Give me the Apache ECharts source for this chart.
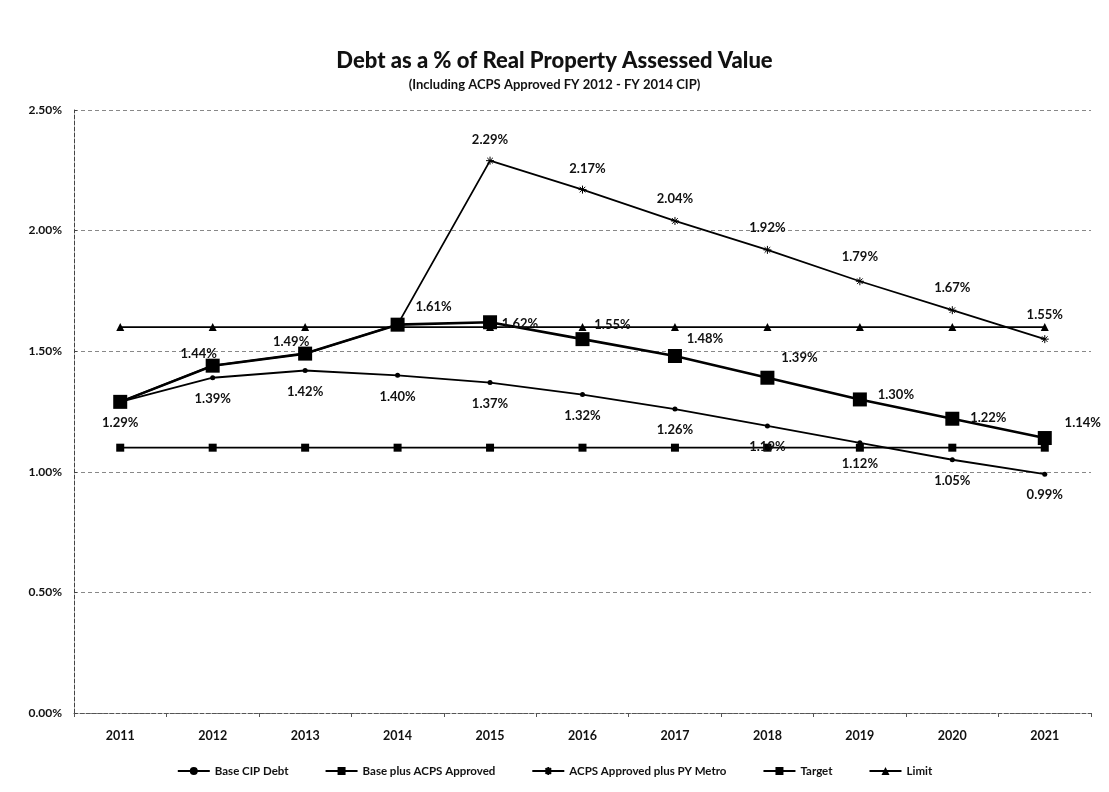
<!DOCTYPE html>
<html>
<head>
<meta charset="utf-8">
<script src="https://cdn.jsdelivr.net/npm/echarts@6/dist/echarts.min.js"></script>
<style>
  html, body { margin: 0; padding: 0; background: #fff; }
  #chart { width: 1109px; height: 792px; }
</style>
</head>
<body>
<div id="chart"></div>
<script>
// Fiscal years on the category axis
const years = ['2011', '2012', '2013', '2014', '2015', '2016', '2017', '2018', '2019', '2020', '2021'];

// Debt as a percent of real property assessed value
const baseCipDebt = [1.29, 1.39, 1.42, 1.40, 1.37, 1.32, 1.26, 1.19, 1.12, 1.05, 0.99];
const basePlusAcps = [1.29, 1.44, 1.49, 1.61, 1.62, 1.55, 1.48, 1.39, 1.30, 1.22, 1.14];
const acpsPlusMetro = [1.29, 1.44, 1.49, 1.61, 2.29, 2.17, 2.04, 1.92, 1.79, 1.67, 1.55];
const target = [1.10, 1.10, 1.10, 1.10, 1.10, 1.10, 1.10, 1.10, 1.10, 1.10, 1.10];
const limit = [1.60, 1.60, 1.60, 1.60, 1.60, 1.60, 1.60, 1.60, 1.60, 1.60, 1.60];

const yTicks = [0, 0.5, 1.0, 1.5, 2.0, 2.5];

const FONT = 'Lato, "Open Sans", sans-serif';
const pct = v => v.toFixed(2) + '%';

// Star-like cross marker for the Metro series
const CROSS = 'path://M0,5 L10,5 M5,0 L5,10 M1.5,1.5 L8.5,8.5 M8.5,1.5 L1.5,8.5';

// Label placement per point: null hides the label, otherwise [dx, dy] offset from the point
const plusLabelOffsets = [null, [-14, -12], [-14, -12], null, [30, 2], [30, -14], [30, -17], [32, -20], [36, -5], [36, -1], [38, -15]];
const metroLabelOffsets = [null, null, null, [36, -18], [0, -21], [5, -21], [0, -22], [0, -22], [0, -24], [0, -22], [0, -24]];

function withLabels(values, offsets) {
  return values.map((v, i) => {
    const off = offsets[i];
    if (!off) return { value: v, label: { show: false } };
    return { value: v, label: { show: true, position: 'inside', offset: off } };
  });
}

const labelStyle = {
  color: '#111',
  fontFamily: FONT,
  fontSize: 13,
  fontWeight: 'bold',
  formatter: p => pct(p.value)
};

const chart = echarts.init(document.getElementById('chart'));
chart.setOption({
  backgroundColor: '#fff',
  animation: false,
  title: {
    text: 'Debt as a % of Real Property Assessed Value',
    subtext: '(Including ACPS Approved FY 2012 - FY 2014 CIP)',
    left: 'center',
    top: 45,
    itemGap: 6,
    textStyle: { fontFamily: FONT, fontSize: 22, fontWeight: 900, color: '#111' },
    subtextStyle: { fontFamily: FONT, fontSize: 13, fontWeight: 'bold', color: '#111' }
  },
  legend: {
    bottom: 10,
    left: 'center',
    itemGap: 36,
    itemWidth: 32,
    itemHeight: 10,
    textStyle: { fontFamily: FONT, fontSize: 11.5, fontWeight: 'bold', color: '#111' },
    data: ['Base CIP Debt', 'Base plus ACPS Approved', 'ACPS Approved plus PY Metro', 'Target', 'Limit']
  },
  grid: { left: 74, right: 18, top: 110, bottom: 79 },
  xAxis: {
    type: 'category',
    data: years,
    boundaryGap: true,
    axisLine: { lineStyle: { color: '#555', type: 'dashed', width: 1 } },
    axisTick: { show: true, length: 4, lineStyle: { color: '#555' } },
    axisLabel: { fontFamily: FONT, fontSize: 12.5, fontWeight: 'bold', color: '#111', margin: 16 }
  },
  yAxis: {
    type: 'value',
    min: yTicks[0],
    max: yTicks[yTicks.length - 1],
    interval: 0.5,
    axisLine: { show: true, lineStyle: { color: '#444', type: 'dashed', width: 1 } },
    axisTick: { show: true, inside: true, length: 3, lineStyle: { color: '#444' } },
    axisLabel: { fontFamily: FONT, fontSize: 12, fontWeight: 'bold', color: '#111', margin: 12, formatter: v => pct(v) },
    splitLine: { show: true, lineStyle: { color: '#888', type: [4, 3], width: 1 } }
  },
  series: [
    {
      name: 'Base CIP Debt',
      type: 'line',
      data: baseCipDebt,
      symbol: 'circle',
      symbolSize: 5,
      lineStyle: { color: '#000', width: 1.8 },
      itemStyle: { color: '#000' },
      label: Object.assign({ show: true, position: 'bottom', distance: 12 }, labelStyle),
      z: 3
    },
    {
      name: 'Base plus ACPS Approved',
      type: 'line',
      data: withLabels(basePlusAcps, plusLabelOffsets),
      symbol: 'rect',
      symbolSize: 14,
      lineStyle: { color: '#000', width: 2.6 },
      itemStyle: { color: '#000' },
      label: labelStyle,
      z: 5
    },
    {
      name: 'ACPS Approved plus PY Metro',
      type: 'line',
      data: withLabels(acpsPlusMetro, metroLabelOffsets),
      symbol: CROSS,
      symbolSize: 8,
      lineStyle: { color: '#000', width: 1.8 },
      itemStyle: { color: '#000', borderColor: '#000', borderWidth: 1 },
      label: labelStyle,
      z: 4
    },
    {
      name: 'Target',
      type: 'line',
      data: target,
      symbol: 'rect',
      symbolSize: 8,
      lineStyle: { color: '#000', width: 1.8 },
      itemStyle: { color: '#000' },
      label: { show: false },
      z: 2
    },
    {
      name: 'Limit',
      type: 'line',
      data: limit,
      symbol: 'triangle',
      symbolSize: 8,
      lineStyle: { color: '#000', width: 1.8 },
      itemStyle: { color: '#000' },
      label: { show: false },
      z: 2
    }
  ]
});
</script>
</body>
</html>
